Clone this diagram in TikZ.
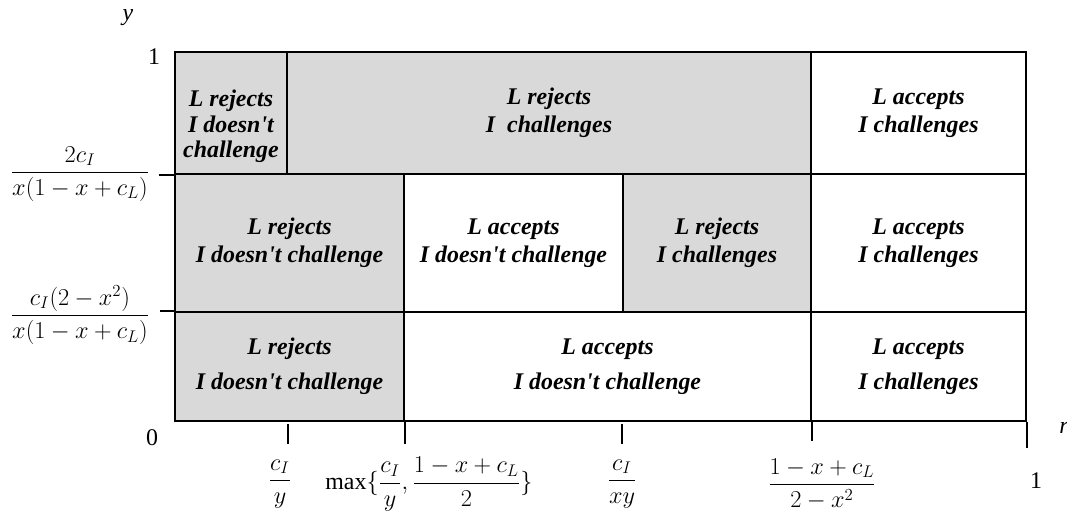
\documentclass[tikz,border=0pt]{standalone}
\usepackage{amsmath}
\usepackage{fontspec}
\setmainfont{Liberation Serif}
\usetikzlibrary{positioning,calc}
\definecolor{Ink}{RGB}{0,0,0}
\definecolor{SoftGray}{RGB}{217,217,217}
\newcommand{\ap}{\textquotesingle}
\tikzset{
  cell/.style={draw=Ink,line width=1.2pt,fill=white,align=center,inner sep=0pt,font=\fontsize{17}{20}\selectfont\bfseries\itshape},
  rej/.style={cell,fill=SoftGray},
  acc/.style={cell},
  tickline/.style={draw=Ink,line width=1.2pt},
  axis/.style={font=\fontsize{17}{20}\selectfont,inner sep=1pt}
}

\begin{document}
\begin{tikzpicture}[x=1cm,y=1cm]
  \useasboundingbox (0,0) rectangle (26.675,12.8);
  % top row
  \node[rej,minimum width=2.8cm,minimum height=3.05cm] (tl) at (5.775,9.975)
    {\raisebox{-0.35cm}[\height][\depth]{\fontsize{17}{18}\selectfont\begin{tabular}{@{}c@{}}L rejects\\I doesn\ap t\\challenge\end{tabular}}};
  \node[rej,minimum width=13.1cm,minimum height=3.05cm] (tm) at (13.725,9.975) {L rejects\\I\ \ challenges};
  \node[acc,minimum width=5.375cm,minimum height=3.05cm] (tr) at (22.9625,9.975) {L accepts\\I challenges};
  % middle row
  \node[rej,minimum width=5.725cm,minimum height=3.45cm] (ml) at (7.2375,6.725) {L rejects\\I doesn\ap t challenge};
  \node[acc,minimum width=5.475cm,minimum height=3.45cm] (mc) at (12.8375,6.725) {L accepts\\I doesn\ap t challenge};
  \node[rej,minimum width=4.7cm,minimum height=3.45cm] (md) at (17.925,6.725) {L rejects\\I challenges};
  \node[acc,minimum width=5.375cm,minimum height=3.45cm] (mr) at (22.9625,6.725) {L accepts\\I challenges};
  % bottom row
  \node[rej,minimum width=5.725cm,minimum height=2.725cm] (bl) at (7.2375,3.6375) {L rejects\\[5pt]I doesn\ap t challenge};
  \node[acc,minimum width=10.175cm,minimum height=2.725cm] (bm) at (15.1875,3.6375) {L accepts\\[5pt]I doesn\ap t challenge};
  \node[acc,minimum width=5.375cm,minimum height=2.725cm] (br) at (22.9625,3.6375) {L accepts\\[5pt]I challenges};

  % ticks
  \draw[tickline] (tl.south west) -- ++(-0.375,0);
  \draw[tickline] (bl.north west) -- ++(-0.35,0);
  \draw[tickline] ($(tl.south east |- bl.south)+(0,-0.05)$) -- ++(0,-0.5);
  \draw[tickline] (bl.south east) -- ++(0,-0.55);
  \draw[tickline] ($(md.west |- bm.south)+(0,-0.05)$) -- ++(0,-0.5);
  \draw[tickline] (bm.south east) -- ++(0,-0.48);
  \draw[tickline] (br.south east) -- ++(0,-0.65);

  % axis labels
  \node[axis] (ylab) at (3.2,12.35) {\textit{y}};
  \node[axis] (rlab) at (26.6,2.1) {\textit{r}};
  \node[axis] (yone) at (3.85,11.375) {1};
  \node[axis] (yzero) at (3.8,1.85) {0};
  \node[axis] (yhi) at (2.0,8.45) {$\dfrac{2c_I}{x(1-x+c_L)}$};
  \node[axis] (ylo) at (2.0,4.925) {$\dfrac{c_I(2-x^2)}{x(1-x+c_L)}$};
  \node[axis] (xa) at (7.0,0.7) {$\dfrac{c_I}{y}$};
  \node[axis] (xb) at (10.725,0.7) {\textrm{max}$\{\dfrac{c_I}{y},\dfrac{1-x+c_L}{2}\}$};
  \node[axis] (xc) at (15.55,0.7) {$\dfrac{c_I}{xy}$};
  \node[axis] (xd) at (20.55,0.7) {$\dfrac{1-x+c_L}{2-x^2}$};
  \node[axis] (xone) at (25.9,0.775) {1};
\end{tikzpicture}
\end{document}
